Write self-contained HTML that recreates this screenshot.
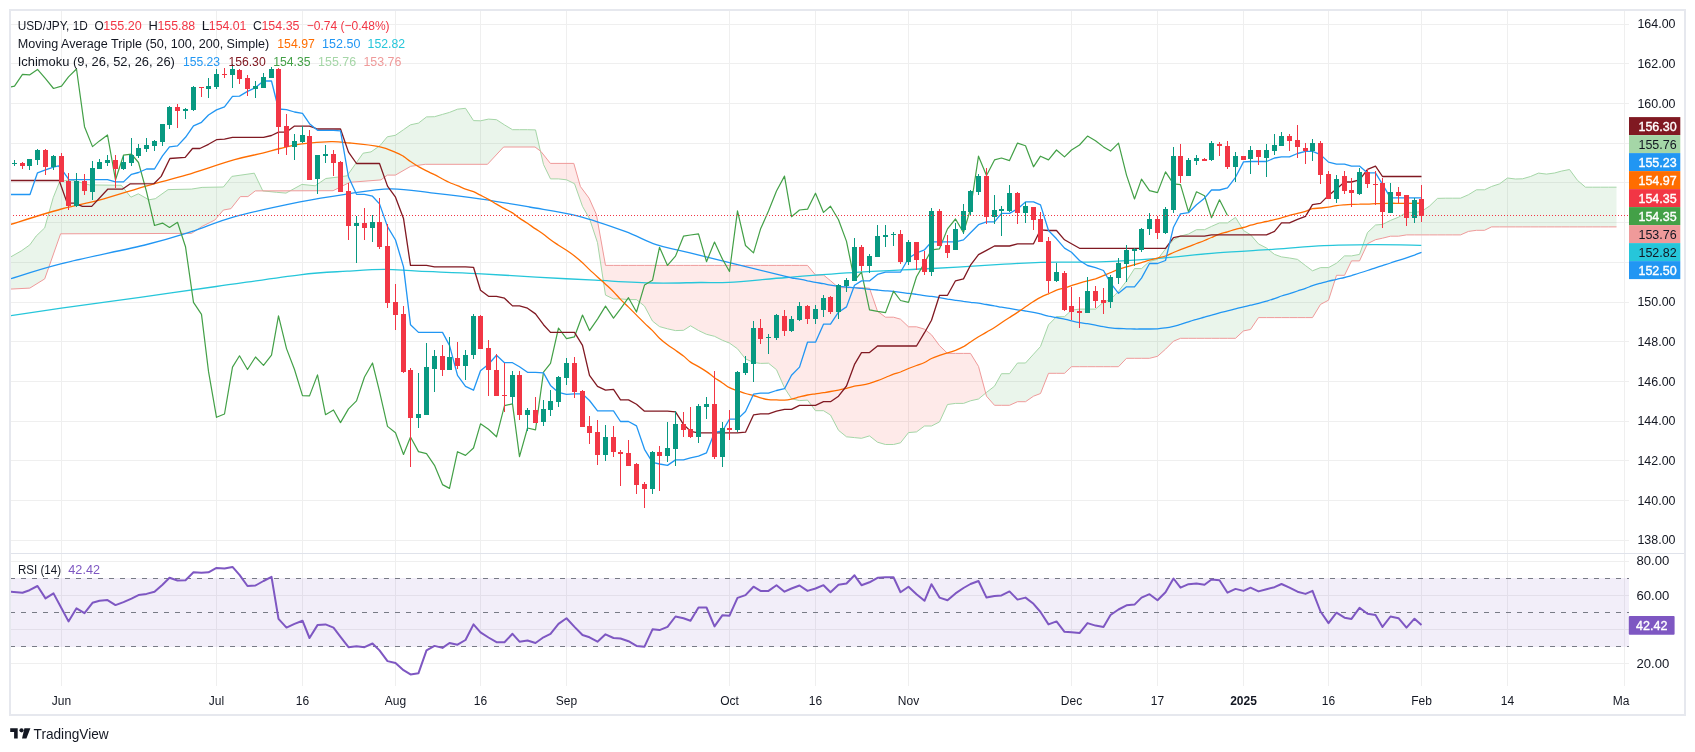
<!DOCTYPE html>
<html><head><meta charset="utf-8"><style>
html,body{margin:0;padding:0;background:#fff;}
body{width:1695px;height:752px;position:relative;overflow:hidden;font-family:"Liberation Sans", sans-serif;}
</style></head><body>
<svg width="1695" height="752" viewBox="0 0 1695 752" style="position:absolute;left:0;top:0">
<defs><clipPath id="cm"><rect x="11" y="11" width="1617" height="542"/></clipPath>
<clipPath id="cr"><rect x="11" y="554" width="1618" height="132"/></clipPath></defs>
<rect width="1695" height="752" fill="#fff"/>
<path d="M11,540.5 H1629 M11,500.5 H1629 M11,460.5 H1629 M11,421.5 H1629 M11,381.5 H1629 M11,341.5 H1629 M11,302.5 H1629 M11,262.5 H1629 M11,222.5 H1629 M11,182.5 H1629 M11,143.5 H1629 M11,103.5 H1629 M11,63.5 H1629 M11,24.5 H1629 M61.5,11 V553 M61.5,554 V686 M216.5,11 V553 M216.5,554 V686 M302.5,11 V553 M302.5,554 V686 M395.5,11 V553 M395.5,554 V686 M480.5,11 V553 M480.5,554 V686 M566.5,11 V553 M566.5,554 V686 M729.5,11 V553 M729.5,554 V686 M815.5,11 V553 M815.5,554 V686 M908.5,11 V553 M908.5,554 V686 M1071.5,11 V553 M1071.5,554 V686 M1157.5,11 V553 M1157.5,554 V686 M1243.5,11 V553 M1243.5,554 V686 M1328.5,11 V553 M1328.5,554 V686 M1421.5,11 V553 M1421.5,554 V686 M1507.5,11 V553 M1507.5,554 V686 M1624.5,11 V553 M1624.5,554 V686 M11,561.5 H1629 M11,595.5 H1629 M11,629.5 H1629 M11,663.5 H1629" stroke="#efefef" stroke-width="1" fill="none"/>
<g clip-path="url(#cm)" fill="none" stroke-linejoin="round">
<path d="M10.2,257.2 L21.3,250.9 L29.8,244.9 L36.2,236.0 L44.7,227.9 L53.2,197.7 L59.6,181.7 L60.6,181.5 L70.2,179.6 L89.4,184.9 L121.3,185.3 L130.9,197.2 L138.3,193.8 L148.9,199.8 L155.3,198.7 L168.1,189.6 L191.5,189.1 L202.1,187.4 L214.9,187.2 L223.4,187.0 L230.9,177.6 L231.9,176.4 L240.4,175.2 L247.9,174.1 L254.3,173.2 L255.3,175.3 L262.8,190.9 L262.8,190.9 L255.3,190.9 L254.3,191.7 L247.9,196.6 L240.4,196.6 L231.9,207.4 L230.9,208.7 L223.4,210.0 L214.9,220.0 L202.1,226.4 L191.5,233.4 L168.1,233.5 L155.3,233.5 L148.9,233.5 L138.3,233.6 L130.9,233.6 L121.3,233.6 L89.4,233.7 L70.2,233.8 L60.6,233.8 L59.6,236.6 L53.2,254.8 L44.7,278.9 L36.2,284.1 L29.8,288.1 L21.3,288.5 L10.2,289.1 Z" fill="rgba(67,160,71,0.11)"/>
<path d="M262.8,190.9 L262.8,190.9 L276.6,192.3 L286.0,193.1 L290.2,190.8 L290.2,190.8 L286.0,190.8 L276.6,190.8 L262.8,190.9 L262.8,190.9 Z" fill="rgba(244,67,54,0.11)"/>
<path d="M290.2,190.8 L301.9,184.4 L315.2,185.8 L325.8,178.5 L333.1,177.6 L337.8,177.1 L347.1,175.8 L349.8,172.0 L363.1,153.2 L371.0,151.9 L380.0,145.6 L381.0,144.4 L387.3,136.8 L395.4,135.3 L403.5,129.7 L410.5,124.8 L410.7,124.8 L418.5,123.1 L425.3,117.8 L426.5,116.9 L434.5,116.7 L442.5,114.4 L449.5,112.4 L457.5,109.2 L465.5,108.3 L473.5,120.6 L480.5,120.8 L487.5,119.3 L488.5,119.1 L496.5,119.7 L503.6,124.3 L504.5,124.9 L512.5,129.7 L519.5,129.7 L527.5,129.7 L535.0,129.9 L535.5,129.9 L540.4,151.0 L540.4,151.0 L535.5,147.4 L535.0,147.0 L527.5,147.0 L519.5,147.0 L512.5,147.0 L504.5,147.0 L503.6,147.0 L496.5,154.6 L488.5,163.2 L487.5,164.3 L480.5,164.3 L473.5,164.3 L465.5,164.3 L457.5,164.3 L449.5,164.3 L442.5,164.3 L434.5,164.3 L426.5,164.3 L425.3,164.3 L418.5,165.2 L410.7,166.3 L410.5,166.4 L403.5,170.4 L395.4,175.1 L387.3,175.1 L381.0,179.9 L380.0,180.0 L371.0,180.7 L363.1,181.3 L349.8,182.3 L347.1,183.7 L337.8,188.3 L333.1,190.7 L325.8,190.7 L315.2,190.7 L301.9,190.8 L290.2,190.8 Z" fill="rgba(67,160,71,0.11)"/>
<path d="M540.4,151.0 L540.9,153.3 L543.5,164.5 L550.4,178.7 L550.5,178.9 L558.5,178.9 L566.5,179.8 L573.8,183.3 L574.5,183.7 L580.4,200.4 L582.5,206.4 L589.1,217.9 L589.5,218.6 L596.4,239.4 L597.5,242.7 L605.5,295.1 L613.5,298.9 L620.5,298.9 L628.5,299.6 L636.5,299.6 L644.5,306.1 L652.5,321.1 L659.5,326.6 L667.5,328.8 L675.5,330.6 L683.5,330.3 L690.5,325.8 L698.5,330.5 L706.5,334.3 L714.5,336.3 L722.5,340.3 L729.5,343.1 L737.5,348.8 L745.5,358.9 L753.5,362.4 L760.5,363.4 L768.5,363.2 L776.5,369.7 L784.5,387.9 L791.5,398.7 L799.5,400.6 L807.5,400.1 L815.5,410.7 L823.5,410.7 L830.5,415.0 L838.5,430.3 L846.5,436.8 L854.5,437.6 L861.5,438.3 L869.5,435.9 L877.5,442.2 L885.5,444.5 L893.5,444.5 L900.5,442.8 L908.5,432.6 L916.5,431.9 L924.5,426.0 L931.5,426.0 L939.5,421.9 L947.5,404.5 L955.5,403.4 L963.5,403.4 L970.5,400.8 L978.5,399.0 L985.6,393.1 L985.6,393.1 L978.5,366.4 L970.5,353.4 L963.5,353.4 L955.5,353.4 L947.5,353.4 L939.5,345.6 L931.5,334.8 L924.5,329.2 L916.5,326.8 L908.5,326.8 L900.5,319.2 L893.5,317.2 L885.5,317.2 L877.5,311.3 L869.5,288.2 L861.5,287.7 L854.5,287.7 L846.5,287.7 L838.5,287.7 L830.5,280.7 L823.5,275.0 L815.5,275.0 L807.5,265.4 L799.5,265.4 L791.5,265.4 L784.5,265.4 L776.5,265.4 L768.5,265.4 L760.5,265.4 L753.5,265.4 L745.5,265.4 L737.5,265.4 L729.5,265.4 L722.5,265.4 L714.5,265.4 L706.5,265.4 L698.5,265.4 L690.5,265.4 L683.5,265.4 L675.5,265.4 L667.5,265.4 L659.5,265.4 L652.5,265.4 L644.5,265.4 L636.5,265.4 L628.5,265.4 L620.5,265.4 L613.5,265.4 L605.5,265.4 L597.5,220.7 L596.4,214.6 L589.5,199.1 L589.1,198.2 L582.5,189.3 L580.4,186.5 L574.5,165.9 L573.8,163.4 L566.5,163.4 L558.5,163.4 L550.5,163.4 L550.4,163.4 L543.5,154.7 L540.9,151.4 L540.4,151.0 Z" fill="rgba(244,67,54,0.11)"/>
<path d="M985.6,393.1 L986.5,392.4 L994.5,386.2 L1001.5,373.7 L1009.5,373.7 L1017.5,363.0 L1025.5,363.0 L1033.5,354.2 L1040.5,346.5 L1048.5,324.8 L1056.5,316.7 L1064.5,316.7 L1071.5,310.2 L1079.5,309.1 L1087.5,309.1 L1095.5,309.1 L1103.5,302.1 L1110.5,299.5 L1118.5,291.3 L1126.5,281.0 L1134.5,268.6 L1141.5,268.6 L1149.5,261.4 L1157.5,259.4 L1165.5,249.0 L1173.5,239.7 L1180.5,236.1 L1188.5,234.0 L1196.5,229.7 L1204.5,229.7 L1211.5,226.4 L1219.5,222.9 L1227.5,222.9 L1235.5,217.4 L1243.5,230.5 L1250.5,234.7 L1258.5,243.9 L1266.5,248.0 L1274.5,254.4 L1281.5,256.9 L1289.5,258.0 L1297.5,259.4 L1305.5,265.6 L1312.5,270.8 L1320.5,267.6 L1328.5,267.6 L1336.5,263.2 L1344.5,255.9 L1351.5,255.9 L1359.5,254.4 L1367.5,232.5 L1375.5,225.0 L1382.5,224.4 L1390.5,220.4 L1398.5,217.2 L1406.5,212.4 L1414.5,212.4 L1421.5,211.4 L1429.5,206.1 L1437.5,198.4 L1445.5,198.2 L1452.5,198.2 L1460.5,198.2 L1468.5,194.7 L1476.5,189.8 L1484.5,189.8 L1491.5,186.5 L1499.5,183.9 L1507.5,178.0 L1515.5,179.0 L1522.5,178.8 L1530.5,176.5 L1538.5,173.1 L1546.5,174.1 L1554.5,173.0 L1561.5,171.1 L1569.5,169.5 L1577.5,180.4 L1585.5,187.2 L1592.5,187.2 L1600.5,187.2 L1608.5,187.2 L1616.5,187.2 L1616.5,226.9 L1608.5,226.9 L1600.5,226.9 L1592.5,226.9 L1585.5,226.9 L1577.5,226.9 L1569.5,226.9 L1561.5,226.9 L1554.5,226.9 L1546.5,226.9 L1538.5,226.9 L1530.5,226.9 L1522.5,226.9 L1515.5,226.9 L1507.5,226.9 L1499.5,226.9 L1491.5,226.9 L1484.5,230.3 L1476.5,230.3 L1468.5,231.4 L1460.5,234.9 L1452.5,234.9 L1445.5,234.9 L1437.5,234.9 L1429.5,234.9 L1421.5,234.9 L1414.5,234.9 L1406.5,234.9 L1398.5,236.2 L1390.5,236.2 L1382.5,238.2 L1375.5,239.7 L1367.5,243.7 L1359.5,260.9 L1351.5,260.9 L1344.5,275.3 L1336.5,275.3 L1328.5,300.2 L1320.5,304.4 L1312.5,317.6 L1305.5,317.6 L1297.5,317.6 L1289.5,317.6 L1281.5,317.6 L1274.5,317.6 L1266.5,317.6 L1258.5,317.6 L1250.5,329.5 L1243.5,330.9 L1235.5,338.3 L1227.5,338.3 L1219.5,338.3 L1211.5,338.3 L1204.5,338.3 L1196.5,338.3 L1188.5,338.3 L1180.5,338.3 L1173.5,341.2 L1165.5,349.2 L1157.5,356.3 L1149.5,358.3 L1141.5,358.3 L1134.5,358.3 L1126.5,358.3 L1118.5,366.7 L1110.5,366.7 L1103.5,366.7 L1095.5,366.7 L1087.5,366.7 L1079.5,366.7 L1071.5,366.7 L1064.5,373.3 L1056.5,373.3 L1048.5,373.3 L1040.5,393.5 L1033.5,396.2 L1025.5,401.7 L1017.5,401.7 L1009.5,405.3 L1001.5,405.3 L994.5,405.3 L986.5,396.2 L985.6,393.1 Z" fill="rgba(67,160,71,0.11)"/>
<path d="M10.2,257.2 L21.3,250.9 L29.8,244.9 L36.2,236.0 L44.7,227.9 L53.2,197.7 L59.6,181.7 L70.2,179.6 L89.4,184.9 L121.3,185.3 L130.9,197.2 L138.3,193.8 L148.9,199.8 L155.3,198.7 L168.1,189.6 L191.5,189.1 L202.1,187.4 L223.4,187.0 L231.9,176.4 L254.3,173.2 L262.8,190.9 L276.6,192.3 L286.0,193.1 L301.9,184.4 L315.2,185.8 L325.8,178.5 L337.8,177.1 L347.1,175.8 L363.1,153.2 L371.0,151.9 L380.0,145.6 L387.3,136.8 L395.4,135.3 L403.5,129.7 L410.5,124.8 L418.5,123.1 L426.5,116.9 L434.5,116.7 L442.5,114.4 L449.5,112.4 L457.5,109.2 L465.5,108.3 L473.5,120.6 L480.5,120.8 L488.5,119.1 L496.5,119.7 L504.5,124.9 L512.5,129.7 L519.5,129.7 L527.5,129.7 L535.5,129.9 L543.5,164.5 L550.5,178.9 L558.5,178.9 L566.5,179.8 L574.5,183.7 L582.5,206.4 L589.5,218.6 L597.5,242.7 L605.5,295.1 L613.5,298.9 L620.5,298.9 L628.5,299.6 L636.5,299.6 L644.5,306.1 L652.5,321.1 L659.5,326.6 L667.5,328.8 L675.5,330.6 L683.5,330.3 L690.5,325.8 L698.5,330.5 L706.5,334.3 L714.5,336.3 L722.5,340.3 L729.5,343.1 L737.5,348.8 L745.5,358.9 L753.5,362.4 L760.5,363.4 L768.5,363.2 L776.5,369.7 L784.5,387.9 L791.5,398.7 L799.5,400.6 L807.5,400.1 L815.5,410.7 L823.5,410.7 L830.5,415.0 L838.5,430.3 L846.5,436.8 L854.5,437.6 L861.5,438.3 L869.5,435.9 L877.5,442.2 L885.5,444.5 L893.5,444.5 L900.5,442.8 L908.5,432.6 L916.5,431.9 L924.5,426.0 L931.5,426.0 L939.5,421.9 L947.5,404.5 L955.5,403.4 L963.5,403.4 L970.5,400.8 L978.5,399.0 L986.5,392.4 L994.5,386.2 L1001.5,373.7 L1009.5,373.7 L1017.5,363.0 L1025.5,363.0 L1033.5,354.2 L1040.5,346.5 L1048.5,324.8 L1056.5,316.7 L1064.5,316.7 L1071.5,310.2 L1079.5,309.1 L1087.5,309.1 L1095.5,309.1 L1103.5,302.1 L1110.5,299.5 L1118.5,291.3 L1126.5,281.0 L1134.5,268.6 L1141.5,268.6 L1149.5,261.4 L1157.5,259.4 L1165.5,249.0 L1173.5,239.7 L1180.5,236.1 L1188.5,234.0 L1196.5,229.7 L1204.5,229.7 L1211.5,226.4 L1219.5,222.9 L1227.5,222.9 L1235.5,217.4 L1243.5,230.5 L1250.5,234.7 L1258.5,243.9 L1266.5,248.0 L1274.5,254.4 L1281.5,256.9 L1289.5,258.0 L1297.5,259.4 L1305.5,265.6 L1312.5,270.8 L1320.5,267.6 L1328.5,267.6 L1336.5,263.2 L1344.5,255.9 L1351.5,255.9 L1359.5,254.4 L1367.5,232.5 L1375.5,225.0 L1382.5,224.4 L1390.5,220.4 L1398.5,217.2 L1406.5,212.4 L1414.5,212.4 L1421.5,211.4 L1429.5,206.1 L1437.5,198.4 L1445.5,198.2 L1452.5,198.2 L1460.5,198.2 L1468.5,194.7 L1476.5,189.8 L1484.5,189.8 L1491.5,186.5 L1499.5,183.9 L1507.5,178.0 L1515.5,179.0 L1522.5,178.8 L1530.5,176.5 L1538.5,173.1 L1546.5,174.1 L1554.5,173.0 L1561.5,171.1 L1569.5,169.5 L1577.5,180.4 L1585.5,187.2 L1592.5,187.2 L1600.5,187.2 L1608.5,187.2 L1616.5,187.2" stroke="#A5D6A7" stroke-width="1"/>
<path d="M10.2,289.1 L29.8,288.1 L44.7,278.9 L60.6,233.8 L191.5,233.4 L202.1,226.4 L214.9,220.0 L223.4,210.0 L230.9,208.7 L240.4,196.6 L247.9,196.6 L255.3,190.9 L333.1,190.7 L349.8,182.3 L381.0,179.9 L387.3,175.1 L395.4,175.1 L410.7,166.3 L425.3,164.3 L487.5,164.3 L503.6,147.0 L535.0,147.0 L540.9,151.4 L550.4,163.4 L573.8,163.4 L580.4,186.5 L589.1,198.2 L596.4,214.6 L605.5,265.4 L613.5,265.4 L620.5,265.4 L628.5,265.4 L636.5,265.4 L644.5,265.4 L652.5,265.4 L659.5,265.4 L667.5,265.4 L675.5,265.4 L683.5,265.4 L690.5,265.4 L698.5,265.4 L706.5,265.4 L714.5,265.4 L722.5,265.4 L729.5,265.4 L737.5,265.4 L745.5,265.4 L753.5,265.4 L760.5,265.4 L768.5,265.4 L776.5,265.4 L784.5,265.4 L791.5,265.4 L799.5,265.4 L807.5,265.4 L815.5,275.0 L823.5,275.0 L830.5,280.7 L838.5,287.7 L846.5,287.7 L854.5,287.7 L861.5,287.7 L869.5,288.2 L877.5,311.3 L885.5,317.2 L893.5,317.2 L900.5,319.2 L908.5,326.8 L916.5,326.8 L924.5,329.2 L931.5,334.8 L939.5,345.6 L947.5,353.4 L955.5,353.4 L963.5,353.4 L970.5,353.4 L978.5,366.4 L986.5,396.2 L994.5,405.3 L1001.5,405.3 L1009.5,405.3 L1017.5,401.7 L1025.5,401.7 L1033.5,396.2 L1040.5,393.5 L1048.5,373.3 L1056.5,373.3 L1064.5,373.3 L1071.5,366.7 L1079.5,366.7 L1087.5,366.7 L1095.5,366.7 L1103.5,366.7 L1110.5,366.7 L1118.5,366.7 L1126.5,358.3 L1134.5,358.3 L1141.5,358.3 L1149.5,358.3 L1157.5,356.3 L1165.5,349.2 L1173.5,341.2 L1180.5,338.3 L1188.5,338.3 L1196.5,338.3 L1204.5,338.3 L1211.5,338.3 L1219.5,338.3 L1227.5,338.3 L1235.5,338.3 L1243.5,330.9 L1250.5,329.5 L1258.5,317.6 L1266.5,317.6 L1274.5,317.6 L1281.5,317.6 L1289.5,317.6 L1297.5,317.6 L1305.5,317.6 L1312.5,317.6 L1320.5,304.4 L1328.5,300.2 L1336.5,275.3 L1344.5,275.3 L1351.5,260.9 L1359.5,260.9 L1367.5,243.7 L1375.5,239.7 L1382.5,238.2 L1390.5,236.2 L1398.5,236.2 L1406.5,234.9 L1414.5,234.9 L1421.5,234.9 L1429.5,234.9 L1437.5,234.9 L1445.5,234.9 L1452.5,234.9 L1460.5,234.9 L1468.5,231.4 L1476.5,230.3 L1484.5,230.3 L1491.5,226.9 L1499.5,226.9 L1507.5,226.9 L1515.5,226.9 L1522.5,226.9 L1530.5,226.9 L1538.5,226.9 L1546.5,226.9 L1554.5,226.9 L1561.5,226.9 L1569.5,226.9 L1577.5,226.9 L1585.5,226.9 L1592.5,226.9 L1600.5,226.9 L1608.5,226.9 L1616.5,226.9" stroke="#EF9A9A" stroke-width="1"/>
<path d="M10.0,315.8 C18.5,314.5 39.6,311.2 61.3,308.1 C83.0,305.0 114.2,300.9 140.0,297.3 C165.8,293.7 189.5,290.2 216.2,286.5 C242.9,282.8 278.2,277.4 300.0,274.8 C321.8,272.2 333.0,272.1 347.2,271.2 C361.4,270.3 373.2,269.4 385.0,269.4 C396.8,269.4 402.7,270.5 418.0,271.2 C433.3,271.9 457.3,272.6 477.0,273.6 C496.7,274.6 516.3,276.0 536.0,277.1 C555.7,278.2 575.3,279.2 595.0,280.2 C614.7,281.2 636.5,282.6 654.0,283.0 C671.5,283.4 687.5,282.6 700.0,282.5 C712.5,282.4 714.2,283.1 728.7,282.3 C743.2,281.5 765.0,279.2 786.8,277.5 C808.6,275.8 835.1,273.7 859.3,272.2 C883.5,270.7 907.7,269.8 931.9,268.5 C956.1,267.2 986.4,265.2 1004.5,264.2 C1022.6,263.2 1024.9,262.7 1040.8,262.3 C1056.7,261.9 1080.4,262.5 1100.0,261.9 C1119.6,261.2 1138.9,259.9 1158.4,258.4 C1177.9,256.9 1197.3,254.4 1216.8,252.9 C1236.3,251.4 1257.3,250.4 1275.2,249.2 C1293.1,248.0 1307.7,246.4 1323.9,245.7 C1340.1,244.9 1356.4,244.8 1372.6,244.7 C1388.8,244.6 1413.2,245.2 1421.3,245.3" stroke="#26C6DA" stroke-width="1.3"/>
<path d="M10.2,278.9 C18.8,276.3 38.9,269.3 61.7,263.6 C84.5,257.9 125.2,249.8 146.8,244.5 C168.4,239.2 177.0,236.3 191.5,231.7 C206.0,227.1 215.9,221.8 234.0,216.8 C252.1,211.8 281.5,205.7 300.0,201.9 C318.5,198.2 330.0,196.5 345.1,194.3 C360.2,192.1 375.8,189.0 390.5,188.8 C405.2,188.6 418.4,191.4 433.6,193.1 C448.8,194.8 465.5,196.8 481.5,199.1 C497.5,201.4 513.4,204.2 529.4,207.0 C545.4,209.8 561.3,211.7 577.3,215.8 C593.2,219.9 612.0,226.6 625.1,231.4 C638.2,236.2 645.4,241.0 656.2,244.6 C667.0,248.2 668.6,247.6 690.0,252.9 C711.4,258.2 767.6,272.1 784.5,276.2 C801.4,280.4 789.0,277.3 791.5,277.8 C794.0,278.3 796.8,278.7 799.5,279.2 C802.2,279.7 804.8,280.2 807.5,280.8 C810.2,281.3 812.8,281.9 815.5,282.4 C818.2,282.9 821.0,283.2 823.5,283.7 C826.0,284.2 828.0,284.8 830.5,285.2 C833.0,285.7 835.8,286.0 838.5,286.3 C841.2,286.6 843.8,286.8 846.5,287.0 C849.2,287.3 852.0,287.4 854.5,287.7 C857.0,287.9 859.0,288.2 861.5,288.4 C864.0,288.7 866.8,289.0 869.5,289.3 C872.2,289.6 874.8,289.8 877.5,290.0 C880.2,290.3 882.8,290.6 885.5,290.8 C888.2,291.0 891.0,291.2 893.5,291.4 C896.0,291.7 898.0,292.1 900.5,292.4 C903.0,292.8 905.8,293.0 908.5,293.3 C911.2,293.6 913.8,294.0 916.5,294.4 C919.2,294.8 922.0,295.4 924.5,295.7 C927.0,296.0 929.0,296.1 931.5,296.4 C934.0,296.7 936.8,297.2 939.5,297.6 C942.2,298.1 944.8,298.6 947.5,299.1 C950.2,299.5 952.8,299.9 955.5,300.3 C958.2,300.6 961.0,300.9 963.5,301.3 C966.0,301.6 968.0,302.0 970.5,302.3 C973.0,302.6 975.8,302.8 978.5,303.2 C981.2,303.6 983.8,304.1 986.5,304.5 C989.2,304.9 992.0,305.4 994.5,305.9 C997.0,306.3 999.0,306.8 1001.5,307.2 C1004.0,307.6 1006.8,308.0 1009.5,308.4 C1012.2,308.9 1014.8,309.4 1017.5,309.8 C1020.2,310.2 1022.8,310.5 1025.5,311.0 C1028.2,311.4 1031.0,311.8 1033.5,312.3 C1036.0,312.8 1038.0,313.3 1040.5,313.9 C1043.0,314.6 1045.8,315.5 1048.5,316.1 C1051.2,316.6 1053.8,317.0 1056.5,317.5 C1059.2,318.0 1062.0,318.6 1064.5,319.1 C1067.0,319.7 1069.0,320.3 1071.5,320.8 C1074.0,321.4 1076.8,322.1 1079.5,322.6 C1082.2,323.1 1084.8,323.3 1087.5,323.7 C1090.2,324.2 1092.8,324.7 1095.5,325.2 C1098.2,325.7 1101.0,326.2 1103.5,326.7 C1106.0,327.1 1108.0,327.5 1110.5,327.8 C1113.0,328.1 1115.8,328.4 1118.5,328.5 C1121.2,328.7 1123.8,328.7 1126.5,328.8 C1129.2,328.8 1132.0,329.0 1134.5,329.0 C1137.0,329.1 1139.0,329.0 1141.5,329.0 C1144.0,329.0 1146.8,329.0 1149.5,329.0 C1152.2,329.0 1154.8,329.0 1157.5,328.9 C1160.2,328.7 1162.8,328.3 1165.5,327.9 C1168.2,327.5 1171.0,326.9 1173.5,326.3 C1176.0,325.8 1178.0,325.1 1180.5,324.4 C1183.0,323.6 1185.8,322.7 1188.5,321.8 C1191.2,321.0 1193.8,320.0 1196.5,319.3 C1199.2,318.5 1202.0,317.9 1204.5,317.2 C1207.0,316.5 1209.0,315.8 1211.5,315.1 C1214.0,314.3 1216.8,313.5 1219.5,312.8 C1222.2,312.1 1224.8,311.6 1227.5,310.9 C1230.2,310.3 1232.8,309.5 1235.5,308.8 C1238.2,308.2 1241.0,307.5 1243.5,306.9 C1246.0,306.3 1248.0,305.8 1250.5,305.2 C1253.0,304.6 1255.8,304.0 1258.5,303.3 C1261.2,302.6 1263.8,301.9 1266.5,301.1 C1269.2,300.3 1272.0,299.5 1274.5,298.6 C1277.0,297.8 1279.0,296.8 1281.5,296.0 C1284.0,295.2 1286.8,294.5 1289.5,293.7 C1292.2,292.8 1294.8,291.9 1297.5,291.0 C1300.2,290.1 1303.0,289.3 1305.5,288.4 C1308.0,287.5 1310.0,286.5 1312.5,285.6 C1315.0,284.7 1317.8,284.0 1320.5,283.3 C1323.2,282.5 1325.8,281.9 1328.5,281.2 C1331.2,280.6 1333.8,279.9 1336.5,279.3 C1339.2,278.6 1342.0,278.2 1344.5,277.5 C1347.0,276.9 1349.0,276.3 1351.5,275.6 C1354.0,274.8 1356.8,273.8 1359.5,273.0 C1362.2,272.2 1364.8,271.4 1367.5,270.5 C1370.2,269.7 1373.0,268.6 1375.5,267.8 C1378.0,267.0 1380.0,266.4 1382.5,265.6 C1385.0,264.8 1387.8,263.8 1390.5,263.0 C1393.2,262.1 1395.8,261.2 1398.5,260.4 C1401.2,259.6 1403.8,258.8 1406.5,257.9 C1409.2,257.0 1412.0,256.0 1414.5,255.1 C1417.0,254.1 1420.3,252.8 1421.5,252.3" stroke="#2196F3" stroke-width="1.3"/>
<path d="M10.2,224.5 C18.7,221.9 46.6,213.1 61.4,209.0 C76.2,204.9 84.5,204.1 99.1,200.2 C113.6,196.2 134.1,189.5 148.7,185.3 C163.3,181.1 172.4,179.2 186.7,174.9 C201.0,170.6 221.9,163.3 234.6,159.7 C247.2,156.1 255.0,155.0 262.6,153.1 C270.2,151.2 273.4,150.0 280.0,148.5 C286.6,147.0 293.4,145.1 301.9,143.9 C310.4,142.8 323.1,141.8 331.1,141.6 C339.1,141.4 341.8,142.2 349.8,143.0 C357.8,143.8 371.4,145.1 379.0,146.6 C386.6,148.1 391.4,150.6 395.5,152.3 C399.6,153.9 401.0,154.9 403.5,156.4 C406.0,158.0 408.0,159.8 410.5,161.5 C413.0,163.2 415.8,165.0 418.5,166.6 C421.2,168.1 423.8,169.5 426.5,170.9 C429.2,172.3 431.8,173.3 434.5,174.7 C437.2,176.0 440.0,177.7 442.5,179.0 C445.0,180.3 447.0,181.4 449.5,182.5 C452.0,183.6 454.8,184.5 457.5,185.7 C460.2,186.8 462.8,188.1 465.5,189.1 C468.2,190.1 471.0,190.6 473.5,191.6 C476.0,192.7 478.0,194.0 480.5,195.2 C483.0,196.5 485.8,197.9 488.5,199.4 C491.2,200.9 493.8,202.6 496.5,204.1 C499.2,205.6 501.8,207.2 504.5,208.6 C507.2,210.1 510.0,211.3 512.5,212.9 C515.0,214.5 517.0,216.4 519.5,218.1 C522.0,219.8 524.8,221.5 527.5,223.3 C530.2,225.1 532.8,227.1 535.5,228.9 C538.2,230.7 541.0,232.4 543.5,234.2 C546.0,236.1 548.0,238.0 550.5,239.8 C553.0,241.6 555.8,243.4 558.5,245.2 C561.2,246.9 563.8,248.5 566.5,250.2 C569.2,252.0 571.8,253.8 574.5,255.9 C577.2,258.0 580.0,260.4 582.5,262.7 C585.0,265.0 587.0,267.2 589.5,269.6 C592.0,272.0 594.8,274.5 597.5,276.9 C600.2,279.4 602.8,281.7 605.5,284.2 C608.2,286.7 611.0,289.2 613.5,291.7 C616.0,294.3 618.0,296.8 620.5,299.4 C623.0,302.0 625.8,304.5 628.5,307.1 C631.2,309.8 633.8,312.4 636.5,315.1 C639.2,317.7 641.8,320.5 644.5,323.1 C647.2,325.7 650.0,328.1 652.5,330.6 C655.0,333.1 657.0,336.0 659.5,338.3 C662.0,340.7 664.8,342.8 667.5,344.8 C670.2,346.8 672.8,348.4 675.5,350.3 C678.2,352.2 681.0,354.1 683.5,356.1 C686.0,358.0 688.0,360.4 690.5,362.1 C693.0,363.9 695.8,365.0 698.5,366.6 C701.2,368.2 703.8,369.8 706.5,371.6 C709.2,373.4 711.8,375.8 714.5,377.7 C717.2,379.5 720.0,381.3 722.5,383.0 C725.0,384.6 727.0,386.4 729.5,387.7 C732.0,389.0 734.8,389.7 737.5,390.7 C740.2,391.6 742.8,392.7 745.5,393.5 C748.2,394.3 751.0,394.8 753.5,395.5 C756.0,396.2 758.0,397.1 760.5,397.8 C763.0,398.5 765.8,399.3 768.5,399.6 C771.2,400.0 773.8,399.8 776.5,399.9 C779.2,400.0 782.0,400.3 784.5,400.2 C787.0,400.1 789.0,399.7 791.5,399.1 C794.0,398.6 796.8,397.6 799.5,396.9 C802.2,396.2 804.8,395.5 807.5,395.0 C810.2,394.5 812.8,394.2 815.5,393.8 C818.2,393.4 821.0,393.1 823.5,392.7 C826.0,392.3 828.0,392.0 830.5,391.5 C833.0,391.1 835.8,390.6 838.5,390.1 C841.2,389.6 843.8,389.0 846.5,388.4 C849.2,387.7 852.0,386.8 854.5,386.2 C857.0,385.7 859.0,385.7 861.5,385.2 C864.0,384.7 866.8,384.1 869.5,383.4 C872.2,382.6 874.8,381.7 877.5,380.7 C880.2,379.7 882.8,378.6 885.5,377.5 C888.2,376.4 891.0,375.2 893.5,374.2 C896.0,373.3 898.0,372.9 900.5,372.0 C903.0,371.0 905.8,369.6 908.5,368.5 C911.2,367.5 913.8,366.5 916.5,365.5 C919.2,364.5 922.0,363.7 924.5,362.5 C927.0,361.3 929.0,359.7 931.5,358.5 C934.0,357.4 936.8,356.4 939.5,355.4 C942.2,354.5 944.8,353.8 947.5,352.9 C950.2,352.1 952.8,351.3 955.5,350.3 C958.2,349.2 961.0,348.0 963.5,346.7 C966.0,345.3 968.0,343.6 970.5,342.0 C973.0,340.3 975.8,338.5 978.5,336.8 C981.2,335.2 983.8,333.6 986.5,332.1 C989.2,330.5 992.0,329.1 994.5,327.5 C997.0,326.0 999.0,324.4 1001.5,322.7 C1004.0,321.0 1006.8,319.2 1009.5,317.5 C1012.2,315.8 1014.8,314.2 1017.5,312.4 C1020.2,310.6 1022.8,308.7 1025.5,306.8 C1028.2,305.0 1031.0,303.1 1033.5,301.5 C1036.0,299.9 1038.0,298.5 1040.5,297.3 C1043.0,296.0 1045.8,294.9 1048.5,293.8 C1051.2,292.6 1053.8,291.2 1056.5,290.2 C1059.2,289.3 1062.0,288.7 1064.5,288.0 C1067.0,287.2 1069.0,286.4 1071.5,285.6 C1074.0,284.8 1076.8,283.9 1079.5,283.1 C1082.2,282.3 1084.8,281.6 1087.5,280.8 C1090.2,280.1 1092.8,279.6 1095.5,278.8 C1098.2,277.9 1101.0,276.7 1103.5,275.7 C1106.0,274.7 1108.0,273.7 1110.5,272.7 C1113.0,271.6 1115.8,270.3 1118.5,269.3 C1121.2,268.3 1123.8,267.7 1126.5,266.9 C1129.2,266.1 1132.0,265.3 1134.5,264.6 C1137.0,263.9 1139.0,263.3 1141.5,262.6 C1144.0,261.9 1146.8,260.9 1149.5,260.2 C1152.2,259.5 1154.8,258.8 1157.5,258.1 C1160.2,257.4 1162.8,256.9 1165.5,256.0 C1168.2,255.1 1171.0,253.6 1173.5,252.5 C1176.0,251.4 1178.0,250.6 1180.5,249.6 C1183.0,248.7 1185.8,247.7 1188.5,246.7 C1191.2,245.7 1193.8,244.5 1196.5,243.5 C1199.2,242.5 1202.0,241.6 1204.5,240.5 C1207.0,239.5 1209.0,238.5 1211.5,237.5 C1214.0,236.4 1216.8,235.1 1219.5,234.1 C1222.2,233.2 1224.8,232.6 1227.5,231.8 C1230.2,231.0 1232.8,230.0 1235.5,229.3 C1238.2,228.6 1241.0,228.2 1243.5,227.5 C1246.0,226.9 1248.0,225.9 1250.5,225.2 C1253.0,224.5 1255.8,223.9 1258.5,223.2 C1261.2,222.6 1263.8,222.1 1266.5,221.5 C1269.2,220.9 1272.0,220.3 1274.5,219.7 C1277.0,219.1 1279.0,218.5 1281.5,217.8 C1284.0,217.0 1286.8,216.1 1289.5,215.3 C1292.2,214.6 1294.8,214.1 1297.5,213.4 C1300.2,212.8 1303.0,212.1 1305.5,211.3 C1308.0,210.5 1310.0,209.3 1312.5,208.7 C1315.0,208.2 1317.8,208.3 1320.5,208.0 C1323.2,207.7 1325.8,207.5 1328.5,207.1 C1331.2,206.7 1333.8,206.0 1336.5,205.6 C1339.2,205.2 1342.0,205.0 1344.5,204.8 C1347.0,204.6 1349.0,204.6 1351.5,204.4 C1354.0,204.3 1356.8,204.1 1359.5,204.1 C1362.2,204.0 1364.8,204.3 1367.5,204.2 C1370.2,204.1 1373.0,203.7 1375.5,203.6 C1378.0,203.5 1380.0,203.7 1382.5,203.6 C1385.0,203.6 1387.8,203.3 1390.5,203.3 C1393.2,203.2 1395.8,203.3 1398.5,203.3 C1401.2,203.3 1403.8,203.4 1406.5,203.4 C1409.2,203.4 1412.0,203.3 1414.5,203.3 C1417.0,203.3 1420.3,203.2 1421.5,203.2" stroke="#FF6D00" stroke-width="1.3"/>
<path d="M6.5,87.6 L14.5,86.2 L22.5,74.3 L29.5,74.9 L37.5,69.4 L45.5,78.7 L53.5,88.5 L61.5,86.2 L68.5,76.9 L76.5,69.0 L84.5,126.7 L92.5,146.6 L99.5,140.9 L107.5,135.0 L115.5,179.8 L123.5,155.2 L131.5,154.1 L138.5,162.5 L146.5,191.6 L154.5,225.5 L162.5,223.1 L169.5,227.5 L177.5,222.3 L185.5,246.7 L193.5,302.4 L201.5,314.4 L208.5,371.4 L216.5,417.3 L224.5,414.0 L232.5,367.1 L239.5,355.8 L247.5,369.5 L255.5,357.0 L263.5,365.4 L271.5,355.1 L278.5,315.8 L286.5,348.6 L294.5,369.5 L302.5,395.6 L309.5,395.9 L317.5,374.9 L325.5,414.7 L333.5,410.0 L340.5,422.6 L348.5,408.9 L356.5,400.9 L364.5,377.0 L372.5,363.0 L379.5,391.3 L387.5,426.4 L395.5,432.8 L403.5,454.5 L410.5,437.0 L418.5,451.6 L426.5,453.6 L434.5,465.3 L442.5,484.6 L449.5,488.4 L457.5,451.7 L465.5,455.4 L473.5,448.0 L480.5,423.8 L488.5,429.3 L496.5,436.8 L504.5,405.7 L512.5,403.8 L519.5,456.7 L527.5,428.0 L535.5,429.9 L543.5,372.2 L550.5,363.4 L558.5,328.0 L566.5,338.6 L574.5,336.8 L582.5,315.0 L589.5,330.6 L597.5,319.1 L605.5,306.1 L613.5,318.2 L620.5,308.9 L628.5,297.7 L636.5,312.0 L644.5,285.1 L652.5,280.3 L659.5,247.3 L667.5,265.4 L675.5,256.1 L683.5,236.2 L690.5,235.0 L698.5,233.8 L706.5,261.7 L714.5,242.1 L722.5,259.3 L729.5,271.5 L737.5,210.9 L745.5,245.5 L753.5,252.9 L760.5,229.1 L768.5,211.0 L776.5,191.0 L784.5,176.1 L791.5,216.7 L799.5,210.0 L807.5,209.2 L815.5,193.2 L823.5,212.4 L830.5,206.2 L838.5,219.8 L846.5,241.4 L854.5,280.4 L861.5,272.1 L869.5,309.8 L877.5,311.3 L885.5,312.6 L893.5,291.2 L900.5,300.5 L908.5,302.4 L916.5,276.7 L924.5,262.9 L931.5,249.9 L939.5,248.8 L947.5,228.9 L955.5,219.0 L963.5,232.6 L970.5,209.0 L978.5,156.2 L986.5,175.5 L994.5,159.9 L1001.5,158.0 L1009.5,160.6 L1017.5,143.1 L1025.5,145.7 L1033.5,166.8 L1040.5,156.2 L1048.5,159.9 L1056.5,150.0 L1064.5,156.9 L1071.5,150.0 L1079.5,145.0 L1087.5,136.1 L1095.5,140.7 L1103.5,146.9 L1110.5,151.1 L1118.5,143.1 L1126.5,175.1 L1134.5,199.0 L1141.5,179.1 L1149.5,190.6 L1157.5,192.6 L1165.5,171.9 L1173.5,183.9 L1180.5,184.7 L1188.5,211.8 L1196.5,191.8 L1204.5,195.8 L1211.5,217.7 L1219.5,199.8 L1227.5,215.5" stroke="#43A047" stroke-width="1.2"/>
<path d="M10.7,180.5 L59.2,180.5 L67.2,203.1 L74.5,203.1 L82.4,206.4 L91.7,206.4 L107.7,189.2 L122.3,189.2 L130.3,183.8 L153.9,183.7 L161.2,176.4 L169.9,158.5 L185.2,157.4 L192.5,148.5 L199.8,148.5 L208.5,144.3 L216.5,139.7 L224.5,139.2 L232.5,137.4 L239.5,137.4 L247.5,137.4 L255.5,137.4 L263.5,137.4 L271.5,135.5 L278.5,132.1 L286.5,132.1 L294.5,126.1 L302.5,126.1 L309.5,126.1 L317.5,129.0 L325.5,129.0 L333.5,129.0 L340.5,129.0 L348.5,152.1 L356.5,163.5 L364.5,163.5 L372.5,163.5 L379.5,163.5 L387.5,186.1 L395.5,197.2 L403.5,218.4 L410.5,265.4 L418.5,265.4 L426.5,265.4 L434.5,266.8 L442.5,266.8 L449.5,266.8 L457.5,266.8 L465.5,266.8 L473.5,267.3 L480.5,290.3 L488.5,296.3 L496.5,296.3 L504.5,298.2 L512.5,305.9 L519.5,305.9 L527.5,308.2 L535.5,313.9 L543.5,324.7 L550.5,332.4 L558.5,332.4 L566.5,332.4 L574.5,332.4 L582.5,345.4 L589.5,375.3 L597.5,386.4 L605.5,390.2 L613.5,389.3 L620.5,399.9 L628.5,399.9 L636.5,404.2 L644.5,411.2 L652.5,411.2 L659.5,411.2 L667.5,411.2 L675.5,411.8 L683.5,424.4 L690.5,431.3 L698.5,432.8 L706.5,432.8 L714.5,432.8 L722.5,432.8 L729.5,432.8 L737.5,432.8 L745.5,432.2 L753.5,414.9 L760.5,413.8 L768.5,413.8 L776.5,411.2 L784.5,409.4 L791.5,409.4 L799.5,405.3 L807.5,405.3 L815.5,405.3 L823.5,401.7 L830.5,401.7 L838.5,396.2 L846.5,386.0 L854.5,364.4 L861.5,352.6 L869.5,352.6 L877.5,346.0 L885.5,346.0 L893.5,346.0 L900.5,346.0 L908.5,346.0 L916.5,346.0 L924.5,332.7 L931.5,320.2 L939.5,295.3 L947.5,295.3 L955.5,280.8 L963.5,278.9 L970.5,265.2 L978.5,254.6 L986.5,250.4 L994.5,246.0 L1001.5,246.0 L1009.5,246.0 L1017.5,243.8 L1025.5,243.8 L1033.5,243.8 L1040.5,229.9 L1048.5,230.5 L1056.5,230.5 L1064.5,239.8 L1071.5,243.8 L1079.5,248.3 L1087.5,248.3 L1095.5,248.3 L1103.5,248.3 L1110.5,248.3 L1118.5,248.3 L1126.5,248.3 L1134.5,248.3 L1141.5,248.3 L1149.5,248.3 L1157.5,248.3 L1165.5,248.3 L1173.5,237.7 L1180.5,236.2 L1188.5,236.2 L1196.5,236.2 L1204.5,236.2 L1211.5,234.9 L1219.5,234.9 L1227.5,234.9 L1235.5,234.9 L1243.5,234.9 L1250.5,234.9 L1258.5,234.9 L1266.5,234.9 L1274.5,231.4 L1281.5,222.8 L1289.5,222.8 L1297.5,219.4 L1305.5,216.4 L1312.5,204.6 L1320.5,203.4 L1328.5,195.4 L1336.5,188.9 L1344.5,182.0 L1351.5,182.0 L1359.5,179.8 L1367.5,169.3 L1375.5,166.1 L1382.5,176.5 L1390.5,176.5 L1398.5,176.5 L1406.5,176.5 L1414.5,176.5 L1421.5,176.5" stroke="#801922" stroke-width="1.3"/>
<path d="M10.7,194.5 L30.0,194.5 L37.5,172.8 L45.5,169.9 L53.5,167.2 L58.5,165.9 L63.8,172.3 L69.1,179.8 L76.5,179.6 L84.5,179.6 L92.5,179.6 L99.5,179.6 L107.5,179.7 L115.5,181.9 L123.5,181.9 L131.5,174.3 L138.5,172.5 L146.5,169.0 L154.5,169.0 L162.5,155.9 L169.5,146.9 L177.5,145.9 L185.5,137.3 L193.5,125.9 L201.5,122.3 L208.5,115.0 L216.5,109.9 L224.5,106.9 L232.5,96.4 L239.5,96.1 L247.5,91.4 L255.5,87.6 L263.5,81.0 L271.5,81.0 L278.5,109.0 L286.5,109.6 L294.5,112.0 L302.5,113.4 L309.5,123.7 L317.5,130.3 L325.5,130.3 L333.5,130.3 L340.5,130.8 L348.5,177.0 L356.5,194.3 L364.5,194.3 L372.5,196.2 L379.5,203.9 L387.5,226.6 L395.5,240.0 L403.5,266.9 L410.5,324.7 L418.5,332.4 L426.5,332.4 L434.5,332.4 L442.5,332.4 L449.5,345.4 L457.5,375.3 L465.5,386.4 L473.5,390.2 L480.5,370.8 L488.5,364.2 L496.5,355.2 L504.5,362.7 L512.5,362.7 L519.5,366.7 L527.5,372.3 L535.5,372.3 L543.5,372.9 L550.5,385.4 L558.5,392.4 L566.5,394.3 L574.5,393.9 L582.5,393.9 L589.5,400.5 L597.5,410.9 L605.5,410.9 L613.5,410.9 L620.5,421.5 L628.5,421.5 L636.5,425.9 L644.5,449.3 L652.5,462.4 L659.5,464.0 L667.5,465.4 L675.5,459.9 L683.5,459.9 L690.5,457.8 L698.5,456.1 L706.5,452.8 L714.5,432.4 L722.5,431.0 L729.5,419.1 L737.5,419.1 L745.5,411.5 L753.5,394.2 L760.5,393.1 L768.5,393.1 L776.5,390.5 L784.5,388.7 L791.5,375.3 L799.5,367.1 L807.5,342.2 L815.5,342.2 L823.5,324.2 L830.5,324.2 L838.5,312.2 L846.5,306.9 L854.5,285.2 L861.5,280.9 L869.5,280.9 L877.5,274.4 L885.5,272.2 L893.5,272.2 L900.5,272.2 L908.5,258.3 L916.5,253.0 L924.5,249.8 L931.5,241.9 L939.5,241.9 L947.5,241.9 L955.5,241.9 L963.5,239.9 L970.5,232.8 L978.5,224.7 L986.5,221.9 L994.5,221.9 L1001.5,213.4 L1009.5,213.4 L1017.5,208.9 L1025.5,201.9 L1033.5,201.9 L1040.5,204.9 L1048.5,230.5 L1056.5,238.8 L1064.5,248.1 L1071.5,252.3 L1079.5,260.5 L1087.5,265.5 L1095.5,267.7 L1103.5,270.5 L1110.5,282.9 L1118.5,293.3 L1126.5,286.8 L1134.5,286.8 L1141.5,278.1 L1149.5,263.5 L1157.5,263.5 L1165.5,260.5 L1173.5,227.2 L1180.5,213.8 L1188.5,212.7 L1196.5,204.7 L1204.5,198.2 L1211.5,190.0 L1219.5,190.0 L1227.5,187.8 L1235.5,177.3 L1243.5,161.9 L1250.5,161.5 L1258.5,161.5 L1266.5,161.5 L1274.5,158.0 L1281.5,156.9 L1289.5,156.9 L1297.5,153.5 L1305.5,151.3 L1312.5,151.3 L1320.5,154.6 L1328.5,162.1 L1336.5,164.1 L1344.5,164.1 L1351.5,166.1 L1359.5,166.1 L1367.5,172.9 L1375.5,172.9 L1382.5,184.3 L1390.5,197.9 L1398.5,197.9 L1406.5,197.9 L1414.5,197.9 L1421.5,197.9" stroke="#2196F3" stroke-width="1.3"/>
<path d="M14.5,160 V166 M29.5,159 V170 M37.5,149 V165 M53.5,155 V170 M76.5,173 V207 M92.5,161 V200 M99.5,159 V169 M107.5,155 V166 M123.5,156 V170 M131.5,138 V166 M138.5,144 V158 M146.5,138 V152 M154.5,140 V151 M162.5,124 V146 M169.5,106 V129 M185.5,108 V119 M193.5,86 V111 M208.5,78 V98 M216.5,69 V89 M232.5,64 V88 M255.5,81 V98 M263.5,73 V88 M271.5,67 V78 M294.5,134 V160 M302.5,126 V143 M317.5,155 V194 M325.5,145 V163 M356.5,216 V263 M372.5,215 V242 M418.5,373 V428 M426.5,343 V414 M434.5,350 V392 M449.5,337 V370 M465.5,350 V380 M473.5,314 V359 M512.5,371 V404 M527.5,408 V431 M543.5,400 V426 M550.5,390 V416 M558.5,376 V407 M566.5,358 V385 M605.5,425 V461 M652.5,451 V494 M667.5,422 V462 M675.5,411 V466 M698.5,404 V443 M706.5,397 V419 M722.5,422 V467 M737.5,371 V432 M745.5,356 V375 M753.5,321 V382 M768.5,334 V354 M776.5,314 V340 M791.5,316 V332 M799.5,302 V321 M815.5,305 V324 M823.5,295 V317 M838.5,284 V319 M846.5,278 V292 M854.5,238 V281 M869.5,254 V273 M877.5,225 V257 M885.5,225 V247 M893.5,232 V246 M908.5,240 V265 M931.5,208 V276 M955.5,223 V250 M963.5,204 V234 M970.5,190 V215 M978.5,174 V195 M994.5,195 V224 M1001.5,206 V236 M1009.5,185 V212 M1025.5,202 V223 M1056.5,263 V282 M1087.5,277 V313 M1110.5,275 V308 M1118.5,258 V284 M1126.5,245 V282 M1134.5,248 V266 M1141.5,228 V252 M1149.5,213 V235 M1165.5,207 V234 M1173.5,147 V213 M1188.5,158 V176 M1196.5,155 V165 M1211.5,141 V161 M1235.5,152 V182 M1250.5,146 V174 M1266.5,144 V177 M1274.5,134 V155 M1281.5,132 V145 M1312.5,139 V161 M1336.5,175 V203 M1359.5,168 V195 M1390.5,183 V212 M1414.5,198 V223" stroke="#089981" stroke-width="1"/>
<path d="M12,163 h5 v1 h-5 Z M27,159 h5 v7 h-5 Z M35,150 h5 v10 h-5 Z M51,156 h5 v11 h-5 Z M74,181 h5 v25 h-5 Z M90,168 h5 v24 h-5 Z M97,162 h5 v7 h-5 Z M105,160 h5 v3 h-5 Z M121,162 h5 v7 h-5 Z M129,155 h5 v8 h-5 Z M136,148 h5 v8 h-5 Z M144,145 h5 v4 h-5 Z M152,141 h5 v5 h-5 Z M160,124 h5 v18 h-5 Z M167,107 h5 v18 h-5 Z M183,109 h5 v2 h-5 Z M191,87 h5 v23 h-5 Z M206,86 h5 v3 h-5 Z M214,74 h5 v13 h-5 Z M230,69 h5 v6 h-5 Z M253,86 h5 v3 h-5 Z M261,77 h5 v11 h-5 Z M269,69 h5 v9 h-5 Z M292,141 h5 v6 h-5 Z M300,135 h5 v7 h-5 Z M315,155 h5 v24 h-5 Z M323,154 h5 v2 h-5 Z M354,223 h5 v3 h-5 Z M370,222 h5 v6 h-5 Z M416,414 h5 v4 h-5 Z M424,367 h5 v48 h-5 Z M432,356 h5 v13 h-5 Z M447,357 h5 v13 h-5 Z M463,355 h5 v11 h-5 Z M471,316 h5 v39 h-5 Z M510,375 h5 v22 h-5 Z M525,410 h5 v5 h-5 Z M541,409 h5 v13 h-5 Z M548,401 h5 v9 h-5 Z M556,377 h5 v25 h-5 Z M564,363 h5 v15 h-5 Z M603,437 h5 v18 h-5 Z M650,452 h5 v37 h-5 Z M665,448 h5 v8 h-5 Z M673,424 h5 v25 h-5 Z M696,406 h5 v31 h-5 Z M704,404 h5 v3 h-5 Z M720,428 h5 v29 h-5 Z M735,372 h5 v58 h-5 Z M743,363 h5 v10 h-5 Z M751,328 h5 v36 h-5 Z M766,337 h5 v1 h-5 Z M774,315 h5 v23 h-5 Z M789,319 h5 v12 h-5 Z M797,306 h5 v14 h-5 Z M813,309 h5 v10 h-5 Z M821,298 h5 v12 h-5 Z M836,285 h5 v27 h-5 Z M844,280 h5 v6 h-5 Z M852,247 h5 v34 h-5 Z M867,256 h5 v10 h-5 Z M875,236 h5 v21 h-5 Z M883,235 h5 v2 h-5 Z M891,234 h5 v1 h-5 Z M906,242 h5 v20 h-5 Z M929,211 h5 v61 h-5 Z M953,229 h5 v21 h-5 Z M961,211 h5 v19 h-5 Z M968,191 h5 v21 h-5 Z M976,176 h5 v16 h-5 Z M992,210 h5 v7 h-5 Z M999,209 h5 v2 h-5 Z M1007,193 h5 v18 h-5 Z M1023,206 h5 v7 h-5 Z M1054,272 h5 v9 h-5 Z M1085,291 h5 v22 h-5 Z M1108,277 h5 v25 h-5 Z M1116,263 h5 v15 h-5 Z M1124,250 h5 v14 h-5 Z M1132,249 h5 v2 h-5 Z M1139,229 h5 v21 h-5 Z M1147,219 h5 v10 h-5 Z M1163,209 h5 v24 h-5 Z M1171,156 h5 v54 h-5 Z M1186,160 h5 v16 h-5 Z M1194,158 h5 v3 h-5 Z M1209,143 h5 v17 h-5 Z M1233,156 h5 v11 h-5 Z M1248,150 h5 v9 h-5 Z M1264,150 h5 v8 h-5 Z M1272,145 h5 v6 h-5 Z M1279,136 h5 v10 h-5 Z M1310,143 h5 v8 h-5 Z M1334,179 h5 v20 h-5 Z M1357,172 h5 v22 h-5 Z M1388,192 h5 v21 h-5 Z M1412,200 h5 v18 h-5 Z" fill="#089981" stroke="none"/>
<path d="M22.5,162 V169 M45.5,149 V175 M61.5,153 V182 M68.5,173 V210 M84.5,174 V195 M115.5,155 V188 M177.5,104 V128 M201.5,87 V97 M224.5,68 V78 M239.5,69 V84 M247.5,75 V96 M278.5,68 V154 M286.5,114 V155 M309.5,130 V180 M333.5,150 V176 M340.5,161 V192 M348.5,183 V240 M364.5,208 V240 M379.5,198 V249 M387.5,224 V308 M395.5,284 V330 M403.5,306 V373 M410.5,368 V467 M442.5,345 V376 M457.5,342 V369 M480.5,315 V349 M488.5,340 V396 M496.5,354 V396 M504.5,363 V412 M519.5,371 V420 M535.5,397 V423 M574.5,357 V398 M582.5,390 V426 M589.5,416 V444 M597.5,420 V465 M613.5,426 V457 M620.5,450 V486 M628.5,440 V466 M636.5,463 V494 M644.5,482 V508 M659.5,446 V491 M683.5,412 V437 M690.5,407 V438 M714.5,371 V459 M729.5,410 V440 M760.5,319 V344 M784.5,310 V336 M807.5,305 V324 M830.5,296 V314 M861.5,245 V271 M900.5,230 V264 M916.5,242 V270 M924.5,251 V275 M939.5,209 V246 M947.5,235 V258 M986.5,168 V224 M1017.5,192 V224 M1033.5,207 V230 M1040.5,212 V242 M1048.5,237 V293 M1064.5,271 V311 M1071.5,287 V320 M1079.5,297 V328 M1095.5,286 V308 M1103.5,288 V314 M1157.5,216 V239 M1180.5,144 V183 M1204.5,158 V161 M1219.5,142 V156 M1227.5,141 V169 M1243.5,156 V160 M1258.5,150 V165 M1289.5,134 V151 M1297.5,125 V158 M1305.5,143 V164 M1320.5,141 V184 M1328.5,171 V199 M1344.5,171 V194 M1351.5,178 V207 M1367.5,169 V188 M1375.5,171 V205 M1382.5,178 V228 M1398.5,187 V203 M1406.5,195 V226 M1421.5,185 V222" stroke="#F23645" stroke-width="1"/>
<path d="M20,163 h5 v3 h-5 Z M43,150 h5 v17 h-5 Z M59,156 h5 v26 h-5 Z M66,181 h5 v25 h-5 Z M82,181 h5 v10 h-5 Z M113,160 h5 v9 h-5 Z M175,107 h5 v4 h-5 Z M199,87 h5 v1 h-5 Z M222,74 h5 v1 h-5 Z M237,70 h5 v9 h-5 Z M245,78 h5 v11 h-5 Z M276,69 h5 v58 h-5 Z M284,126 h5 v21 h-5 Z M307,136 h5 v44 h-5 Z M331,154 h5 v9 h-5 Z M338,162 h5 v30 h-5 Z M346,191 h5 v35 h-5 Z M362,223 h5 v5 h-5 Z M377,222 h5 v25 h-5 Z M385,246 h5 v57 h-5 Z M393,302 h5 v13 h-5 Z M401,314 h5 v58 h-5 Z M408,370 h5 v48 h-5 Z M440,356 h5 v14 h-5 Z M455,358 h5 v8 h-5 Z M478,316 h5 v33 h-5 Z M486,348 h5 v22 h-5 Z M494,370 h5 v26 h-5 Z M502,395 h5 v1 h-5 Z M517,375 h5 v40 h-5 Z M533,410 h5 v13 h-5 Z M572,363 h5 v29 h-5 Z M580,391 h5 v36 h-5 Z M587,426 h5 v7 h-5 Z M595,432 h5 v23 h-5 Z M611,437 h5 v15 h-5 Z M618,452 h5 v2 h-5 Z M626,453 h5 v13 h-5 Z M634,464 h5 v21 h-5 Z M642,484 h5 v5 h-5 Z M657,452 h5 v4 h-5 Z M681,424 h5 v6 h-5 Z M688,429 h5 v8 h-5 Z M712,404 h5 v53 h-5 Z M727,428 h5 v2 h-5 Z M758,328 h5 v11 h-5 Z M782,316 h5 v15 h-5 Z M805,306 h5 v13 h-5 Z M828,297 h5 v15 h-5 Z M859,247 h5 v19 h-5 Z M898,234 h5 v28 h-5 Z M914,242 h5 v18 h-5 Z M922,259 h5 v13 h-5 Z M937,211 h5 v35 h-5 Z M945,245 h5 v8 h-5 Z M984,176 h5 v41 h-5 Z M1015,193 h5 v20 h-5 Z M1031,207 h5 v13 h-5 Z M1038,219 h5 v23 h-5 Z M1046,241 h5 v40 h-5 Z M1062,273 h5 v37 h-5 Z M1069,306 h5 v6 h-5 Z M1077,311 h5 v2 h-5 Z M1093,291 h5 v10 h-5 Z M1101,300 h5 v3 h-5 Z M1155,219 h5 v14 h-5 Z M1178,156 h5 v20 h-5 Z M1202,159 h5 v2 h-5 Z M1217,144 h5 v2 h-5 Z M1225,146 h5 v21 h-5 Z M1241,156 h5 v4 h-5 Z M1256,150 h5 v7 h-5 Z M1287,136 h5 v5 h-5 Z M1295,140 h5 v7 h-5 Z M1303,148 h5 v3 h-5 Z M1318,143 h5 v32 h-5 Z M1326,174 h5 v25 h-5 Z M1342,176 h5 v15 h-5 Z M1349,190 h5 v3 h-5 Z M1365,172 h5 v12 h-5 Z M1373,184 h5 v1 h-5 Z M1380,183 h5 v29 h-5 Z M1396,192 h5 v4 h-5 Z M1404,195 h5 v23 h-5 Z M1419,199 h5 v17 h-5 Z" fill="#F23645" stroke="none"/>
<path d="M11,215.5 H1628" stroke="#F23645" stroke-width="1" stroke-dasharray="1,2" stroke-dashoffset="1"/>
</g>
<g clip-path="url(#cr)">
<rect x="11" y="578.0" width="1618" height="69.0" fill="rgba(126,87,194,0.1)"/>
<path d="M10,578.5 H1629" stroke="#787B86" stroke-width="1" stroke-dasharray="5,6" fill="none"/>
<path d="M10,612.5 H1629" stroke="#787B86" stroke-width="1" stroke-dasharray="5,6" fill="none"/>
<path d="M10,646.5 H1629" stroke="#787B86" stroke-width="1" stroke-dasharray="5,6" fill="none"/>
<path d="M10.4,591.7 L22.5,592.7 L29.5,590.2 L37.5,586.0 L45.5,598.4 L53.5,593.4 L61.5,608.3 L68.5,621.4 L76.5,608.3 L84.5,613.2 L92.5,602.8 L99.5,600.8 L107.5,600.1 L115.5,605.1 L123.5,602.1 L131.5,598.6 L138.5,595.1 L146.5,593.9 L154.5,591.7 L162.5,584.7 L169.5,577.8 L177.5,580.5 L185.5,580.3 L193.5,572.3 L201.5,572.8 L208.5,572.3 L216.5,567.9 L224.5,568.6 L232.5,566.9 L239.5,574.8 L247.5,586.0 L255.5,585.5 L263.5,581.0 L271.5,576.8 L278.5,618.9 L286.5,627.6 L294.5,623.9 L302.5,620.7 L309.5,638.0 L317.5,625.1 L325.5,624.4 L333.5,627.6 L340.5,636.8 L348.5,647.2 L356.5,646.2 L364.5,647.2 L372.5,643.5 L379.5,650.4 L387.5,661.1 L395.5,663.0 L403.5,670.2 L410.5,674.4 L418.5,673.2 L426.5,650.4 L434.5,645.9 L442.5,647.9 L449.5,643.0 L457.5,644.7 L465.5,640.0 L473.5,624.4 L480.5,632.3 L488.5,637.5 L496.5,642.2 L504.5,642.2 L512.5,633.8 L519.5,641.7 L527.5,640.5 L535.5,643.0 L543.5,637.3 L550.5,633.8 L558.5,623.9 L566.5,618.2 L574.5,626.9 L582.5,635.0 L589.5,637.3 L597.5,641.7 L605.5,634.3 L613.5,638.0 L620.5,638.5 L628.5,641.2 L636.5,645.9 L644.5,646.7 L652.5,629.3 L659.5,630.1 L667.5,626.9 L675.5,616.5 L683.5,618.2 L690.5,620.7 L698.5,607.5 L706.5,607.5 L714.5,626.4 L722.5,615.2 L729.5,615.7 L737.5,597.9 L745.5,595.1 L753.5,586.7 L760.5,590.9 L768.5,590.9 L776.5,585.2 L784.5,591.7 L791.5,588.5 L799.5,585.5 L807.5,590.9 L815.5,588.5 L823.5,585.2 L830.5,592.2 L838.5,584.7 L846.5,583.5 L854.5,575.3 L861.5,585.2 L869.5,582.3 L877.5,577.8 L885.5,577.3 L893.5,577.3 L900.5,592.2 L908.5,586.7 L916.5,594.2 L924.5,600.8 L931.5,584.2 L939.5,597.6 L947.5,600.3 L955.5,593.4 L963.5,588.0 L970.5,584.0 L978.5,581.0 L986.5,597.6 L994.5,595.9 L1001.5,595.4 L1009.5,591.4 L1017.5,599.6 L1025.5,597.6 L1033.5,603.8 L1040.5,612.0 L1048.5,624.4 L1056.5,621.4 L1064.5,631.8 L1071.5,632.3 L1079.5,633.1 L1087.5,623.1 L1095.5,625.6 L1103.5,626.9 L1110.5,615.0 L1118.5,609.5 L1126.5,605.3 L1134.5,604.6 L1141.5,597.6 L1149.5,594.2 L1157.5,600.3 L1165.5,592.2 L1173.5,578.5 L1180.5,587.7 L1188.5,584.2 L1196.5,583.5 L1204.5,584.7 L1211.5,579.5 L1219.5,580.3 L1227.5,592.7 L1235.5,588.9 L1243.5,590.9 L1250.5,587.7 L1258.5,591.4 L1266.5,589.2 L1274.5,587.2 L1281.5,584.0 L1289.5,587.7 L1297.5,591.7 L1305.5,593.9 L1312.5,590.9 L1320.5,611.5 L1328.5,623.1 L1336.5,612.7 L1344.5,617.7 L1351.5,618.9 L1359.5,607.8 L1367.5,613.7 L1375.5,615.0 L1382.5,626.9 L1390.5,616.5 L1398.5,618.2 L1406.5,627.6 L1414.5,618.7 L1421.5,624.9" stroke="#7E57C2" stroke-width="2" fill="none" stroke-linejoin="round"/>
</g>
<path d="M11,553.5 H1684" stroke="#e0e3eb" stroke-width="1"/>
<rect x="10" y="10" width="1675" height="705" fill="none" stroke="#e6e8ee" stroke-width="2"/>
<g fill="#131722"><path d="M10.2,728.2 H17.7 V738.4 H14.1 V732 H10.2 Z"/><circle cx="21.5" cy="730.3" r="2.1"/><path d="M24.4,728.2 H30.4 L26.4,738.4 H22 Z"/></g>
</svg>
<svg width="1695" height="752" style="position:absolute;left:0;top:0;will-change:transform;font-family:'Liberation Sans', sans-serif"><text x="17.7" y="30.0" fill="#131722" font-size="12.50" text-anchor="start" font-weight="normal" textLength="70.1" lengthAdjust="spacingAndGlyphs">USD/JPY, 1D</text>
<text x="94.4" y="30.0" fill="#131722" font-size="12.50" text-anchor="start" font-weight="normal" textLength="9.2" lengthAdjust="spacingAndGlyphs">O</text>
<text x="103.3" y="30.0" fill="#F23645" font-size="12.50" text-anchor="start" font-weight="normal" textLength="38.5" lengthAdjust="spacingAndGlyphs">155.20</text>
<text x="148.6" y="30.0" fill="#131722" font-size="12.50" text-anchor="start" font-weight="normal" textLength="9.3" lengthAdjust="spacingAndGlyphs">H</text>
<text x="157.4" y="30.0" fill="#F23645" font-size="12.50" text-anchor="start" font-weight="normal" textLength="37.8" lengthAdjust="spacingAndGlyphs">155.88</text>
<text x="201.7" y="30.0" fill="#131722" font-size="12.50" text-anchor="start" font-weight="normal" textLength="7.6" lengthAdjust="spacingAndGlyphs">L</text>
<text x="208.8" y="30.0" fill="#F23645" font-size="12.50" text-anchor="start" font-weight="normal" textLength="37.6" lengthAdjust="spacingAndGlyphs">154.01</text>
<text x="252.9" y="30.0" fill="#131722" font-size="12.50" text-anchor="start" font-weight="normal" textLength="8.8" lengthAdjust="spacingAndGlyphs">C</text>
<text x="261.4" y="30.0" fill="#F23645" font-size="12.50" text-anchor="start" font-weight="normal" textLength="38.1" lengthAdjust="spacingAndGlyphs">154.35</text>
<text x="306.7" y="30.0" fill="#F23645" font-size="12.50" text-anchor="start" font-weight="normal" textLength="82.9" lengthAdjust="spacingAndGlyphs">−0.74 (−0.48%)</text>
<text x="17.7" y="47.8" fill="#131722" font-size="12.50" text-anchor="start" font-weight="normal" textLength="251.6" lengthAdjust="spacingAndGlyphs">Moving Average Triple (50, 100, 200, Simple)</text>
<text x="277.3" y="47.8" fill="#FF6D00" font-size="12.50" text-anchor="start" font-weight="normal" textLength="37.5" lengthAdjust="spacingAndGlyphs">154.97</text>
<text x="322.1" y="47.8" fill="#2196F3" font-size="12.50" text-anchor="start" font-weight="normal" textLength="38.3" lengthAdjust="spacingAndGlyphs">152.50</text>
<text x="367.6" y="47.8" fill="#26C6DA" font-size="12.50" text-anchor="start" font-weight="normal" textLength="37.4" lengthAdjust="spacingAndGlyphs">152.82</text>
<text x="17.7" y="66.0" fill="#131722" font-size="12.50" text-anchor="start" font-weight="normal" textLength="157.2" lengthAdjust="spacingAndGlyphs">Ichimoku (9, 26, 52, 26, 26)</text>
<text x="182.9" y="66.0" fill="#2196F3" font-size="12.50" text-anchor="start" font-weight="normal" textLength="37.1" lengthAdjust="spacingAndGlyphs">155.23</text>
<text x="228.4" y="66.0" fill="#801922" font-size="12.50" text-anchor="start" font-weight="normal" textLength="37.3" lengthAdjust="spacingAndGlyphs">156.30</text>
<text x="273.2" y="66.0" fill="#43A047" font-size="12.50" text-anchor="start" font-weight="normal" textLength="37.4" lengthAdjust="spacingAndGlyphs">154.35</text>
<text x="318.1" y="66.0" fill="#A5D6A7" font-size="12.50" text-anchor="start" font-weight="normal" textLength="38.0" lengthAdjust="spacingAndGlyphs">155.76</text>
<text x="363.4" y="66.0" fill="#EF9A9A" font-size="12.50" text-anchor="start" font-weight="normal" textLength="38.0" lengthAdjust="spacingAndGlyphs">153.76</text>
<text x="18.0" y="574.3" fill="#131722" font-size="12.50" text-anchor="start" font-weight="normal" textLength="43.1" lengthAdjust="spacingAndGlyphs">RSI (14)</text>
<text x="68.3" y="574.3" fill="#7E57C2" font-size="12.50" text-anchor="start" font-weight="normal" textLength="31.7" lengthAdjust="spacingAndGlyphs">42.42</text>
<text x="1637.4" y="543.7" fill="#131722" font-size="12.50" text-anchor="start" font-weight="normal" textLength="38.1" lengthAdjust="spacingAndGlyphs">138.00</text>
<text x="1637.4" y="504.7" fill="#131722" font-size="12.50" text-anchor="start" font-weight="normal" textLength="38.1" lengthAdjust="spacingAndGlyphs">140.00</text>
<text x="1637.4" y="464.7" fill="#131722" font-size="12.50" text-anchor="start" font-weight="normal" textLength="38.1" lengthAdjust="spacingAndGlyphs">142.00</text>
<text x="1637.4" y="424.7" fill="#131722" font-size="12.50" text-anchor="start" font-weight="normal" textLength="38.1" lengthAdjust="spacingAndGlyphs">144.00</text>
<text x="1637.4" y="385.7" fill="#131722" font-size="12.50" text-anchor="start" font-weight="normal" textLength="38.1" lengthAdjust="spacingAndGlyphs">146.00</text>
<text x="1637.4" y="345.7" fill="#131722" font-size="12.50" text-anchor="start" font-weight="normal" textLength="38.1" lengthAdjust="spacingAndGlyphs">148.00</text>
<text x="1637.4" y="305.7" fill="#131722" font-size="12.50" text-anchor="start" font-weight="normal" textLength="38.1" lengthAdjust="spacingAndGlyphs">150.00</text>
<text x="1637.4" y="147.7" fill="#131722" font-size="12.50" text-anchor="start" font-weight="normal" textLength="38.1" lengthAdjust="spacingAndGlyphs">158.00</text>
<text x="1637.4" y="107.7" fill="#131722" font-size="12.50" text-anchor="start" font-weight="normal" textLength="38.1" lengthAdjust="spacingAndGlyphs">160.00</text>
<text x="1637.4" y="67.7" fill="#131722" font-size="12.50" text-anchor="start" font-weight="normal" textLength="38.1" lengthAdjust="spacingAndGlyphs">162.00</text>
<text x="1637.4" y="27.7" fill="#131722" font-size="12.50" text-anchor="start" font-weight="normal" textLength="38.1" lengthAdjust="spacingAndGlyphs">164.00</text>
<text x="1636.5" y="564.8" fill="#131722" font-size="12.50" text-anchor="start" font-weight="normal" textLength="32.8" lengthAdjust="spacingAndGlyphs">80.00</text>
<text x="1636.5" y="599.8" fill="#131722" font-size="12.50" text-anchor="start" font-weight="normal" textLength="32.8" lengthAdjust="spacingAndGlyphs">60.00</text>
<text x="1636.5" y="667.8" fill="#131722" font-size="12.50" text-anchor="start" font-weight="normal" textLength="32.8" lengthAdjust="spacingAndGlyphs">20.00</text>
<text x="61.5" y="705.2" fill="#131722" font-size="12.00" text-anchor="middle" font-weight="normal">Jun</text>
<text x="216.5" y="705.2" fill="#131722" font-size="12.00" text-anchor="middle" font-weight="normal">Jul</text>
<text x="302.5" y="705.2" fill="#131722" font-size="12.00" text-anchor="middle" font-weight="normal">16</text>
<text x="395.5" y="705.2" fill="#131722" font-size="12.00" text-anchor="middle" font-weight="normal">Aug</text>
<text x="480.5" y="705.2" fill="#131722" font-size="12.00" text-anchor="middle" font-weight="normal">16</text>
<text x="566.5" y="705.2" fill="#131722" font-size="12.00" text-anchor="middle" font-weight="normal">Sep</text>
<text x="729.5" y="705.2" fill="#131722" font-size="12.00" text-anchor="middle" font-weight="normal">Oct</text>
<text x="815.5" y="705.2" fill="#131722" font-size="12.00" text-anchor="middle" font-weight="normal">16</text>
<text x="908.5" y="705.2" fill="#131722" font-size="12.00" text-anchor="middle" font-weight="normal">Nov</text>
<text x="1071.5" y="705.2" fill="#131722" font-size="12.00" text-anchor="middle" font-weight="normal">Dec</text>
<text x="1157.5" y="705.2" fill="#131722" font-size="12.00" text-anchor="middle" font-weight="normal">17</text>
<text x="1243.5" y="705.2" fill="#131722" font-size="12.00" text-anchor="middle" font-weight="bold">2025</text>
<text x="1328.5" y="705.2" fill="#131722" font-size="12.00" text-anchor="middle" font-weight="normal">16</text>
<text x="1421.5" y="705.2" fill="#131722" font-size="12.00" text-anchor="middle" font-weight="normal">Feb</text>
<text x="1507.5" y="705.2" fill="#131722" font-size="12.00" text-anchor="middle" font-weight="normal">14</text>
<text x="1621.2" y="705.2" fill="#131722" font-size="12.00" text-anchor="middle" font-weight="normal">Ma</text>
<text x="33.6" y="738.8" fill="#131722" font-size="14.20" text-anchor="start" font-weight="normal" textLength="75.0" lengthAdjust="spacingAndGlyphs">TradingView</text><rect x="1629" y="117.1" width="51.3" height="18" fill="#801922"/>
<text x="1657.6" y="131.1" fill="#fff" stroke="#fff" stroke-width="0.35" font-size="12.5" text-anchor="middle">156.30</text>
<rect x="1629" y="135.1" width="51.3" height="18" fill="#A5D6A7"/>
<text x="1657.6" y="149.1" fill="#131722" stroke="#131722" stroke-width="0.00" font-size="12.5" text-anchor="middle">155.76</text>
<rect x="1629" y="153.1" width="51.3" height="18" fill="#2196F3"/>
<text x="1657.6" y="167.1" fill="#fff" stroke="#fff" stroke-width="0.35" font-size="12.5" text-anchor="middle">155.23</text>
<rect x="1629" y="171.1" width="51.3" height="18" fill="#FF6D00"/>
<text x="1657.6" y="185.1" fill="#fff" stroke="#fff" stroke-width="0.35" font-size="12.5" text-anchor="middle">154.97</text>
<rect x="1629" y="189.1" width="51.3" height="18" fill="#F23645"/>
<text x="1657.6" y="203.1" fill="#fff" stroke="#fff" stroke-width="0.35" font-size="12.5" text-anchor="middle">154.35</text>
<rect x="1629" y="207.1" width="51.3" height="18" fill="#43A047"/>
<text x="1657.6" y="221.1" fill="#fff" stroke="#fff" stroke-width="0.35" font-size="12.5" text-anchor="middle">154.35</text>
<rect x="1629" y="225.1" width="51.3" height="18" fill="#EF9A9A"/>
<text x="1657.6" y="239.1" fill="#131722" stroke="#131722" stroke-width="0.00" font-size="12.5" text-anchor="middle">153.76</text>
<rect x="1629" y="243.1" width="51.3" height="18" fill="#26C6DA"/>
<text x="1657.6" y="257.1" fill="#131722" stroke="#131722" stroke-width="0.00" font-size="12.5" text-anchor="middle">152.82</text>
<rect x="1629" y="261.1" width="51.3" height="18" fill="#2196F3"/>
<text x="1657.6" y="275.1" fill="#fff" stroke="#fff" stroke-width="0.35" font-size="12.5" text-anchor="middle">152.50</text>
<rect x="1628.8" y="616" width="45.8" height="18.7" rx="1" fill="#7E57C2"/>
<text x="1651.7" y="630.2" fill="#fff" stroke="#fff" stroke-width="0.35" font-size="12.5" text-anchor="middle">42.42</text></svg>
</body></html>
